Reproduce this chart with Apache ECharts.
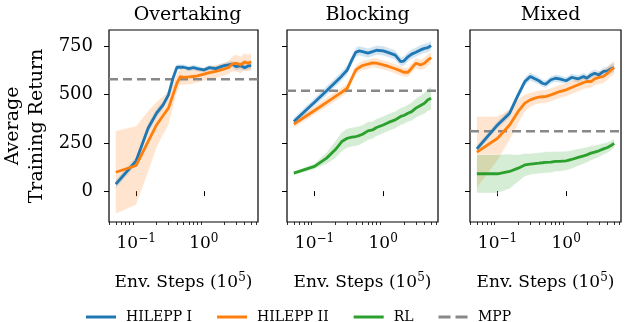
<!DOCTYPE html>
<html>
<head>
<meta charset="utf-8">
<script src="https://cdn.jsdelivr.net/npm/echarts@6/dist/echarts.min.js"></script>
<style>
  html, body { margin: 0; padding: 0; background: #fff; }
  #main { width: 630px; height: 322px; }
</style>
</head>
<body>
<div id="main"></div>
<script>
// env steps (x 1e5)
const steps = [0.05, 0.1, 0.15, 0.2, 0.25, 0.3, 0.35, 0.4, 0.45, 0.5, 0.6, 0.7, 0.8, 1.0, 1.2, 1.5, 1.8, 2.0, 2.3, 2.6, 3.0, 3.5, 4.0, 4.5, 5.0];

// Overtaking
const otH1 = [36, 157, 326, 404, 447, 499, 585, 642, 643, 642, 635, 640, 635, 628, 640, 635, 645, 650, 654, 658, 645, 650, 640, 649, 650];
const otH1Sd = [22, 22, 25, 25, 22, 20, 20, 15, 15, 15, 15, 15, 15, 15, 15, 15, 15, 15, 18, 18, 20, 20, 20, 20, 20];
const otH2 = [98, 133, 257, 343, 392, 430, 499, 559, 594, 590, 592, 594, 597, 606, 614, 620, 628, 633, 640, 658, 663, 654, 670, 663, 670];
const otH2Sd = [215, 205, 160, 120, 100, 90, 65, 50, 45, 40, 40, 38, 35, 35, 35, 35, 35, 35, 35, 40, 45, 45, 45, 45, 45];

// Blocking
const blH1 = [361, 461, 520, 563, 597, 628, 680, 720, 727, 723, 715, 723, 730, 727, 718, 705, 671, 674, 696, 710, 720, 732, 740, 744, 754];
const blH1Sd = [20, 22, 25, 25, 25, 25, 25, 25, 25, 25, 25, 25, 25, 25, 25, 25, 25, 25, 25, 25, 25, 25, 25, 25, 25];
const blH2 = [347, 418, 460, 490, 513, 534, 585, 628, 641, 651, 658, 665, 663, 654, 646, 634, 623, 616, 616, 637, 663, 654, 663, 680, 692];
const blH2Sd = [20, 22, 25, 25, 25, 25, 25, 25, 25, 25, 25, 25, 25, 25, 25, 25, 25, 25, 25, 25, 28, 28, 30, 30, 30];
const blRL = [93, 128, 171, 214, 257, 274, 280, 283, 288, 295, 312, 317, 330, 343, 356, 369, 387, 392, 404, 412, 430, 444, 455, 473, 481];
const blRLSd = [10, 15, 30, 45, 50, 50, 50, 50, 50, 48, 48, 45, 45, 45, 45, 45, 45, 45, 45, 48, 50, 52, 55, 58, 60];

// Mixed
const mxH1 = [219, 343, 404, 499, 568, 594, 582, 572, 559, 554, 577, 585, 582, 572, 589, 582, 594, 585, 602, 611, 602, 620, 623, 634, 640];
const mxH1Sd = [18, 20, 22, 22, 22, 22, 22, 20, 20, 20, 20, 20, 20, 20, 20, 20, 20, 20, 20, 20, 22, 22, 25, 25, 25];
const mxH2 = [202, 274, 343, 413, 456, 473, 482, 487, 489, 490, 499, 508, 516, 525, 537, 551, 563, 568, 568, 582, 589, 594, 611, 628, 640];
const mxH2Sd = [185, 114, 80, 64, 45, 38, 35, 35, 35, 35, 35, 35, 35, 35, 35, 35, 35, 35, 35, 35, 35, 35, 35, 35, 35];
const mxRL = [90, 90, 102, 119, 136, 140, 143, 145, 147, 149, 150, 154, 154, 157, 164, 175, 183, 188, 197, 202, 209, 219, 226, 236, 248];
const mxRLSd = [100, 100, 90, 70, 60, 55, 55, 55, 55, 55, 55, 52, 52, 50, 48, 45, 42, 40, 38, 36, 33, 30, 28, 25, 25];

const titles = ["Overtaking", "Blocking", "Mixed"];
const mpp = [580, 520, 310];
const xMajor = [0.1, 1];
const xMinor = [0.04, 0.05, 0.06, 0.07, 0.08, 0.09, 0.2, 0.3, 0.4, 0.5, 0.6, 0.7, 0.8, 0.9, 2, 3, 4, 5, 6];
const yTicks = [0, 250, 500, 750];

const panels = [
  [["HILEPP I", otH1, otH1Sd], ["HILEPP II", otH2, otH2Sd]],
  [["HILEPP I", blH1, blH1Sd], ["HILEPP II", blH2, blH2Sd], ["RL", blRL, blRLSd]],
  [["HILEPP I", mxH1, mxH1Sd], ["HILEPP II", mxH2, mxH2Sd], ["RL", mxRL, mxRLSd]],
];
const colors = { "HILEPP I": "#1f77b4", "HILEPP II": "#ff7f0e", RL: "#2ca02c", MPP: "#888888" };

const font = "DejaVu Serif";
const xMin = 0.0397, xMax = 6.3;
const yMin = -160, yMax = 835;
const gridLeft = [107, 287, 470];
const gridW = 151;

let myChart = echarts.init(document.getElementById("main"), null, { renderer: "canvas" });

let grid = [], xAxis = [], yAxis = [], title = [], series = [];
const supStyle = { fontFamily: font, fontSize: 12, verticalAlign: "top", lineHeight: 14, color: "#000" };

gridLeft.forEach((left, i) => {
  grid.push({
    left: left, top: 30, width: gridW, height: 192,
    show: true, borderColor: "#000", borderWidth: 1.2, backgroundColor: "#fff",
  });
  title.push({
    text: titles[i], left: left + gridW / 2, top: 1, textAlign: "center",
    textStyle: { fontFamily: font, fontSize: 19, fontWeight: "normal", color: "#000" },
  });
  // main x axis: major ticks + labels
  xAxis.push({
    gridIndex: i, type: "log", logBase: 10, min: xMin, max: xMax, position: "bottom",
    axisLine: { show: false }, splitLine: { show: false },
    axisTick: { show: true, customValues: xMajor, length: 5, lineStyle: { color: "#000", width: 1 } },
    axisLabel: {
      customValues: xMajor, color: "#000", fontFamily: font, fontSize: 17, margin: 11, lineHeight: 22,
      formatter: (v) => (v < 0.5 ? "10{sup|\u22121}" : "10{sup|0}"),
      rich: { sup: supStyle },
    },
    name: "Env. Steps (10{sup|5})", nameLocation: "middle", nameGap: 50,
    nameTextStyle: { fontFamily: font, fontSize: 17, color: "#000", lineHeight: 22, rich: { sup: supStyle } },
  });
  // second x axis: minor log ticks only
  xAxis.push({
    gridIndex: i, type: "log", logBase: 10, min: xMin, max: xMax, position: "bottom",
    axisLine: { show: false }, splitLine: { show: false }, axisLabel: { show: false },
    axisTick: { show: true, customValues: xMinor, length: 3, lineStyle: { color: "#000", width: 0.8 } },
  });
  yAxis.push({
    gridIndex: i, type: "value", min: yMin, max: yMax,
    axisLine: { show: false }, splitLine: { show: false },
    axisTick: { show: true, customValues: yTicks, length: 5, lineStyle: { color: "#000", width: 1 } },
    axisLabel: { show: i === 0, customValues: yTicks, color: "#000", fontFamily: font, fontSize: 18, margin: 16 },
    name: i === 0 ? "Average\nTraining Return" : "",
    nameLocation: "middle", nameRotate: 90, nameGap: 60,
    nameTextStyle: { fontFamily: font, fontSize: 19, lineHeight: 24, color: "#000" },
  });

  // MPP reference line
  series.push({
    name: "MPP", type: "line", xAxisIndex: 2 * i, yAxisIndex: i,
    data: [[xMin, mpp[i]], [xMax, mpp[i]]],
    symbol: "none", silent: true, z: 3,
    lineStyle: { color: colors.MPP, width: 2.6, type: [9, 5] },
    itemStyle: { color: colors.MPP },
  });

  // shaded bands (mean +- spread)
  panels[i].forEach(([name, mean, sd]) => {
    const c = colors[name];
    series.push({
      type: "custom", xAxisIndex: 2 * i, yAxisIndex: i, silent: true, z: 1,
      data: [[steps[0], mean[0]]],
      renderItem: (params, api) => {
        const upper = steps.map((x, j) => api.coord([x, mean[j] + sd[j]]));
        const lower = steps.map((x, j) => api.coord([x, mean[j] - sd[j]]));
        return {
          type: "group",
          children: [
            { type: "polygon", shape: { points: upper.concat(lower.slice().reverse()) }, style: { fill: c, opacity: 0.2 } },
            { type: "polyline", shape: { points: upper }, style: { stroke: "#fff", lineWidth: 0.7, fill: null, opacity: 0.8 } },
            { type: "polyline", shape: { points: lower }, style: { stroke: "#fff", lineWidth: 0.7, fill: null, opacity: 0.8 } },
          ],
        };
      },
    });
  });
  panels[i].forEach(([name, mean]) => {
    series.push({
      name: name, type: "line", xAxisIndex: 2 * i, yAxisIndex: i,
      data: steps.map((x, j) => [x, mean[j]]),
      symbol: "none", z: 4,
      lineStyle: { color: colors[name], width: 2.8 },
      itemStyle: { color: colors[name] },
    });
  });
});

const solidIcon = "path://M0 0H30V3H0Z";
const dashIcon = "path://M0 0H12V3H0Z M17 0H29V3H17Z";

let option = {
  backgroundColor: "#fff",
  animation: false,
  title: title,
  grid: grid,
  xAxis: xAxis,
  yAxis: yAxis,
  legend: {
    data: [
      { name: "HILEPP I", icon: solidIcon },
      { name: "HILEPP II", icon: solidIcon },
      { name: "RL", icon: solidIcon },
      { name: "MPP", icon: dashIcon },
    ],
    left: 81, top: 305, itemWidth: 30, itemHeight: 3, itemGap: 25,
    textStyle: { fontFamily: font, fontSize: 14, color: "#000", padding: [0, 0, 0, 5] },
  },
  series: series,
};

myChart.setOption(option);
</script>
</body>
</html>
